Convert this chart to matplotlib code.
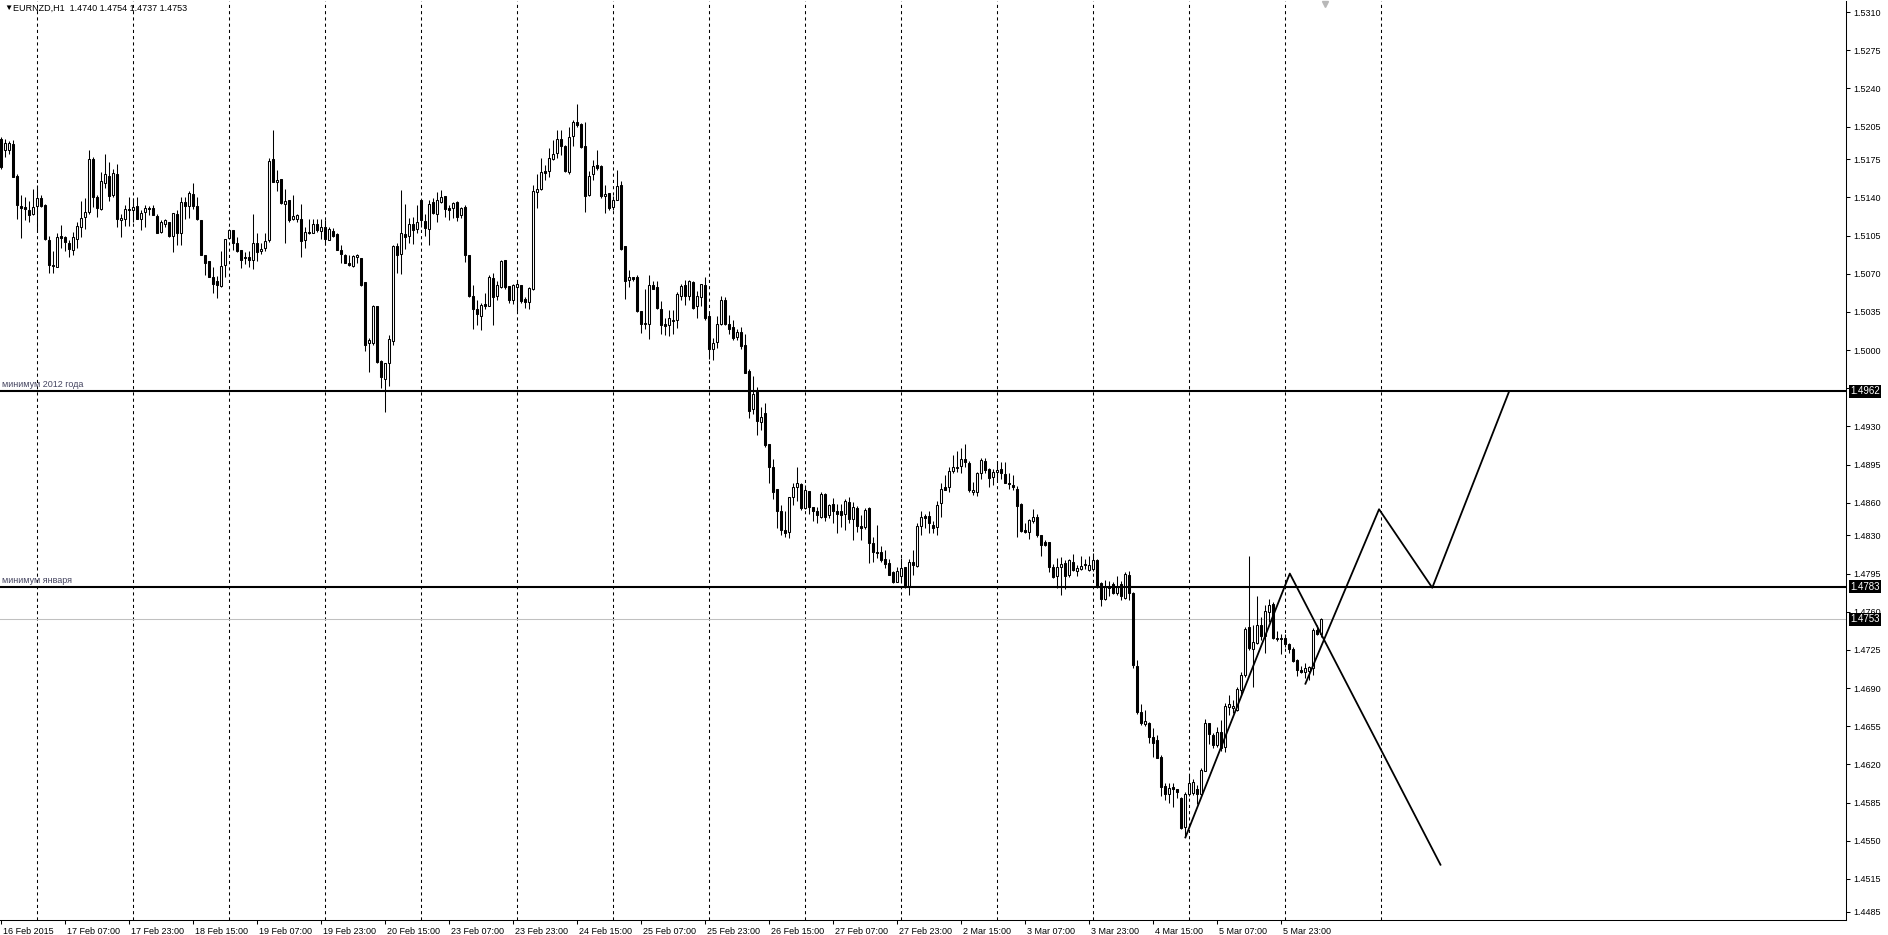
import numpy as np
import matplotlib.pyplot as plt
import matplotlib.transforms as mtransforms

plt.rcParams['font.family'] = ['Liberation Sans', 'DejaVu Sans']

# EURNZD H1, one value per bar (bar 0 = 16 Feb 15:00)
opens = [
    1.5194, 1.5183, 1.5183, 1.5189, 1.5160, 1.5132, 1.5131, 1.5128, 1.5125, 1.5132,
    1.5139, 1.5133, 1.5101, 1.5078, 1.5076, 1.5105, 1.5104, 1.5098, 1.5092, 1.5102,
    1.5113, 1.5122, 1.5127, 1.5175, 1.5140, 1.5129, 1.5153, 1.5160, 1.5142, 1.5161,
    1.5119, 1.5120, 1.5129, 1.5128, 1.5132, 1.5120, 1.5127, 1.5130, 1.5130, 1.5123,
    1.5108, 1.5116, 1.5117, 1.5105, 1.5125, 1.5107, 1.5136, 1.5132, 1.5143, 1.5132,
    1.5119, 1.5087, 1.5082, 1.5067, 1.5063, 1.5059, 1.5078, 1.5103, 1.5110, 1.5098,
    1.5092, 1.5085, 1.5085, 1.5083, 1.5098, 1.5091, 1.5094, 1.5101, 1.5175, 1.5154,
    1.5157, 1.5134, 1.5138, 1.5120, 1.5120, 1.5120, 1.5101, 1.5108, 1.5107, 1.5116,
    1.5109, 1.5113, 1.5101, 1.5109, 1.5106, 1.5092, 1.5087, 1.5080, 1.5077, 1.5085,
    1.5084, 1.5062, 1.5006, 1.5006, 1.5040, 1.4990, 1.4973, 1.4988, 1.5008, 1.5095,
    1.5088, 1.5106, 1.5105, 1.5116, 1.5111, 1.5138, 1.5118, 1.5111, 1.5136, 1.5125,
    1.5136, 1.5141, 1.5130, 1.5130, 1.5136, 1.5124, 1.5131, 1.5087, 1.5050, 1.5038,
    1.5031, 1.5042, 1.5040, 1.5066, 1.5050, 1.5058, 1.5083, 1.5059, 1.5046, 1.5058,
    1.5060, 1.5047, 1.5044, 1.5056, 1.5145, 1.5148, 1.5164, 1.5164, 1.5175, 1.5181,
    1.5194, 1.5187, 1.5163, 1.5196, 1.5209, 1.5207, 1.5187, 1.5142, 1.5161, 1.5170,
    1.5169, 1.5141, 1.5144, 1.5131, 1.5138, 1.5151, 1.5095, 1.5064, 1.5067, 1.5067,
    1.5036, 1.5024, 1.5024, 1.5060, 1.5058, 1.5038, 1.5024, 1.5023, 1.5027, 1.5028,
    1.5050, 1.5060, 1.5050, 1.5062, 1.5040, 1.5049, 1.5060, 1.5031, 1.5001, 1.5007,
    1.5024, 1.5046, 1.5024, 1.5021, 1.5012, 1.5017, 1.5005, 1.4981, 1.4946, 1.4962,
    1.4934, 1.4942, 1.4914, 1.4893, 1.4873, 1.4852, 1.4835, 1.4833, 1.4865, 1.4874,
    1.4877, 1.4855, 1.4871, 1.4856, 1.4852, 1.4847, 1.4868, 1.4849, 1.4859, 1.4852,
    1.4852, 1.4850, 1.4861, 1.4845, 1.4855, 1.4839, 1.4838, 1.4855, 1.4823, 1.4815,
    1.4815, 1.4808, 1.4805, 1.4796, 1.4787, 1.4793, 1.4801, 1.4784, 1.4806, 1.4802,
    1.4839, 1.4848, 1.4848, 1.4840, 1.4838, 1.4860, 1.4874, 1.4874, 1.4889, 1.4892,
    1.4894, 1.4900, 1.4896, 1.4870, 1.4870, 1.4887, 1.4898, 1.4891, 1.4884, 1.4888,
    1.4891, 1.4886, 1.4878, 1.4876, 1.4873, 1.4859, 1.4835, 1.4833, 1.4843, 1.4847,
    1.4830, 1.4824, 1.4824, 1.4801, 1.4793, 1.4801, 1.4805, 1.4794, 1.4806, 1.4797,
    1.4799, 1.4804, 1.4798, 1.4799, 1.4807, 1.4786, 1.4772, 1.4784, 1.4785, 1.4777,
    1.4785, 1.4773, 1.4794, 1.4777, 1.4710, 1.4668, 1.4657, 1.4658, 1.4645, 1.4642,
    1.4627, 1.4600, 1.4593, 1.4599, 1.4597, 1.4589, 1.4563, 1.4593, 1.4594, 1.4597,
    1.4593, 1.4614, 1.4658, 1.4647, 1.4638, 1.4650, 1.4636, 1.4673, 1.4672, 1.4670,
    1.4688, 1.4702, 1.4746, 1.4726, 1.4731, 1.4748, 1.4738, 1.4760, 1.4767, 1.4736,
    1.4736, 1.4736, 1.4730, 1.4726, 1.4716, 1.4707, 1.4705, 1.4706, 1.4708, 1.4743,
    1.4740,
]
highs = [
    1.5195, 1.5194, 1.5192, 1.5193, 1.5161, 1.5142, 1.5140, 1.5137, 1.5148, 1.5151,
    1.5142, 1.5134, 1.5105, 1.5091, 1.5107, 1.5115, 1.5105, 1.5101, 1.5108, 1.5117,
    1.5137, 1.5139, 1.5183, 1.5177, 1.5142, 1.5163, 1.5180, 1.5172, 1.5166, 1.5171,
    1.5125, 1.5133, 1.5140, 1.5139, 1.5140, 1.5128, 1.5133, 1.5132, 1.5133, 1.5125,
    1.5119, 1.5120, 1.5117, 1.5126, 1.5128, 1.5140, 1.5140, 1.5146, 1.5153, 1.5140,
    1.5119, 1.5087, 1.5082, 1.5076, 1.5068, 1.5091, 1.5102, 1.5111, 1.5110, 1.5104,
    1.5092, 1.5090, 1.5091, 1.5125, 1.5107, 1.5098, 1.5107, 1.5176, 1.5202, 1.5165,
    1.5157, 1.5148, 1.5138, 1.5142, 1.5125, 1.5134, 1.5113, 1.5120, 1.5120, 1.5120,
    1.5120, 1.5119, 1.5113, 1.5112, 1.5107, 1.5096, 1.5088, 1.5087, 1.5087, 1.5088,
    1.5084, 1.5062, 1.5011, 1.5041, 1.5040, 1.4991, 1.4988, 1.5014, 1.5096, 1.5098,
    1.5147, 1.5134, 1.5121, 1.5122, 1.5133, 1.5138, 1.5125, 1.5138, 1.5139, 1.5145,
    1.5147, 1.5141, 1.5133, 1.5136, 1.5137, 1.5131, 1.5133, 1.5087, 1.5060, 1.5046,
    1.5043, 1.5052, 1.5069, 1.5071, 1.5063, 1.5083, 1.5083, 1.5059, 1.5061, 1.5062,
    1.5060, 1.5049, 1.5058, 1.5151, 1.5161, 1.5176, 1.5170, 1.5185, 1.5193, 1.5202,
    1.5202, 1.5188, 1.5205, 1.5211, 1.5226, 1.5208, 1.5209, 1.5164, 1.5174, 1.5183,
    1.5170, 1.5151, 1.5144, 1.5141, 1.5165, 1.5155, 1.5095, 1.5073, 1.5067, 1.5069,
    1.5036, 1.5056, 1.5069, 1.5063, 1.5063, 1.5045, 1.5029, 1.5037, 1.5037, 1.5053,
    1.5061, 1.5064, 1.5064, 1.5063, 1.5054, 1.5061, 1.5067, 1.5034, 1.5011, 1.5031,
    1.5050, 1.5049, 1.5032, 1.5028, 1.5019, 1.5021, 1.5015, 1.4983, 1.4976, 1.4966,
    1.4948, 1.4951, 1.4914, 1.4900, 1.4873, 1.4858, 1.4852, 1.4865, 1.4878, 1.4893,
    1.4878, 1.4876, 1.4871, 1.4856, 1.4856, 1.4870, 1.4869, 1.4859, 1.4864, 1.4859,
    1.4859, 1.4863, 1.4865, 1.4861, 1.4857, 1.4849, 1.4855, 1.4856, 1.4829, 1.4840,
    1.4820, 1.4817, 1.4808, 1.4797, 1.4801, 1.4809, 1.4801, 1.4808, 1.4817, 1.4841,
    1.4852, 1.4850, 1.4852, 1.4843, 1.4862, 1.4878, 1.4885, 1.4893, 1.4904, 1.4907,
    1.4910, 1.4914, 1.4898, 1.4879, 1.4888, 1.4901, 1.4901, 1.4892, 1.4891, 1.4898,
    1.4897, 1.4897, 1.4887, 1.4885, 1.4875, 1.4860, 1.4841, 1.4845, 1.4854, 1.4850,
    1.4830, 1.4826, 1.4824, 1.4804, 1.4809, 1.4810, 1.4807, 1.4808, 1.4813, 1.4803,
    1.4811, 1.4808, 1.4811, 1.4814, 1.4808, 1.4787, 1.4789, 1.4788, 1.4787, 1.4793,
    1.4788, 1.4796, 1.4797, 1.4778, 1.4716, 1.4675, 1.4670, 1.4659, 1.4653, 1.4647,
    1.4629, 1.4603, 1.4603, 1.4603, 1.4597, 1.4590, 1.4595, 1.4610, 1.4607, 1.4601,
    1.4617, 1.4662, 1.4658, 1.4649, 1.4654, 1.4661, 1.4676, 1.4684, 1.4679, 1.4691,
    1.4705, 1.4746, 1.4811, 1.4748, 1.4774, 1.4755, 1.4766, 1.4772, 1.4769, 1.4742,
    1.4740, 1.4740, 1.4731, 1.4728, 1.4717, 1.4710, 1.4713, 1.4710, 1.4745, 1.4748,
    1.4754,
]
lows = [
    1.5166, 1.5177, 1.5180, 1.5159, 1.5120, 1.5103, 1.5119, 1.5117, 1.5124, 1.5108,
    1.5131, 1.5101, 1.5071, 1.5071, 1.5076, 1.5094, 1.5091, 1.5085, 1.5087, 1.5094,
    1.5104, 1.5111, 1.5125, 1.5131, 1.5122, 1.5128, 1.5149, 1.5137, 1.5140, 1.5113,
    1.5104, 1.5114, 1.5114, 1.5117, 1.5120, 1.5110, 1.5113, 1.5124, 1.5124, 1.5107,
    1.5107, 1.5113, 1.5104, 1.5090, 1.5096, 1.5096, 1.5120, 1.5121, 1.5129, 1.5119,
    1.5087, 1.5069, 1.5067, 1.5052, 1.5048, 1.5058, 1.5067, 1.5102, 1.5092, 1.5090,
    1.5075, 1.5079, 1.5076, 1.5074, 1.5082, 1.5088, 1.5091, 1.5099, 1.5154, 1.5146,
    1.5134, 1.5098, 1.5117, 1.5119, 1.5117, 1.5085, 1.5094, 1.5106, 1.5107, 1.5108,
    1.5102, 1.5096, 1.5101, 1.5104, 1.5092, 1.5080, 1.5080, 1.5077, 1.5076, 1.5080,
    1.5059, 1.4999, 1.4980, 1.5005, 1.4988, 1.4965, 1.4943, 1.4967, 1.5005, 1.5071,
    1.5070, 1.5093, 1.5098, 1.5097, 1.5107, 1.5113, 1.5105, 1.5096, 1.5125, 1.5117,
    1.5135, 1.5122, 1.5119, 1.5121, 1.5118, 1.5121, 1.5081, 1.5049, 1.5019, 1.5023,
    1.5018, 1.5038, 1.5040, 1.5023, 1.5046, 1.5057, 1.5056, 1.5043, 1.5042, 1.5036,
    1.5043, 1.5039, 1.5038, 1.5055, 1.5130, 1.5147, 1.5156, 1.5159, 1.5174, 1.5176,
    1.5179, 1.5163, 1.5161, 1.5187, 1.5205, 1.5185, 1.5127, 1.5141, 1.5156, 1.5165,
    1.5139, 1.5126, 1.5128, 1.5128, 1.5138, 1.5092, 1.5047, 1.5058, 1.5063, 1.5035,
    1.5016, 1.5019, 1.5010, 1.5056, 1.5038, 1.5015, 1.5014, 1.5013, 1.5015, 1.5020,
    1.5046, 1.5041, 1.5046, 1.5038, 1.5029, 1.5040, 1.5028, 1.4992, 1.4991, 1.5002,
    1.5023, 1.5023, 1.5015, 1.5009, 1.5009, 1.5001, 1.4979, 1.4938, 1.4941, 1.4922,
    1.4927, 1.4911, 1.4878, 1.4863, 1.4837, 1.4830, 1.4829, 1.4828, 1.4858, 1.4862,
    1.4853, 1.4854, 1.4850, 1.4843, 1.4841, 1.4846, 1.4843, 1.4846, 1.4841, 1.4832,
    1.4838, 1.4835, 1.4841, 1.4826, 1.4833, 1.4826, 1.4836, 1.4805, 1.4806, 1.4809,
    1.4806, 1.4800, 1.4794, 1.4786, 1.4787, 1.4786, 1.4782, 1.4775, 1.4794, 1.4801,
    1.4830, 1.4837, 1.4832, 1.4832, 1.4830, 1.4847, 1.4872, 1.4870, 1.4887, 1.4888,
    1.4887, 1.4893, 1.4870, 1.4867, 1.4866, 1.4882, 1.4887, 1.4874, 1.4876, 1.4881,
    1.4882, 1.4878, 1.4873, 1.4872, 1.4829, 1.4833, 1.4832, 1.4827, 1.4841, 1.4829,
    1.4811, 1.4820, 1.4796, 1.4791, 1.4782, 1.4775, 1.4781, 1.4792, 1.4797, 1.4793,
    1.4798, 1.4799, 1.4797, 1.4797, 1.4782, 1.4765, 1.4771, 1.4774, 1.4776, 1.4775,
    1.4771, 1.4772, 1.4771, 1.4708, 1.4666, 1.4656, 1.4655, 1.4640, 1.4627, 1.4626,
    1.4591, 1.4587, 1.4585, 1.4581, 1.4589, 1.4561, 1.4553, 1.4591, 1.4592, 1.4584,
    1.4592, 1.4614, 1.4639, 1.4635, 1.4636, 1.4632, 1.4631, 1.4665, 1.4667, 1.4669,
    1.4684, 1.4700, 1.4725, 1.4691, 1.4730, 1.4734, 1.4722, 1.4751, 1.4735, 1.4733,
    1.4721, 1.4728, 1.4722, 1.4714, 1.4701, 1.4704, 1.4699, 1.4697, 1.4702, 1.4739,
    1.4737,
]
closes = [
    1.5168, 1.5190, 1.5190, 1.5159, 1.5133, 1.5130, 1.5129, 1.5124, 1.5131, 1.5139,
    1.5132, 1.5102, 1.5078, 1.5077, 1.5104, 1.5103, 1.5099, 1.5093, 1.5104, 1.5114,
    1.5121, 1.5127, 1.5175, 1.5140, 1.5130, 1.5155, 1.5161, 1.5141, 1.5162, 1.5120,
    1.5121, 1.5129, 1.5128, 1.5131, 1.5120, 1.5126, 1.5130, 1.5129, 1.5124, 1.5107,
    1.5117, 1.5119, 1.5105, 1.5126, 1.5107, 1.5136, 1.5132, 1.5144, 1.5132, 1.5120,
    1.5087, 1.5080, 1.5067, 1.5061, 1.5060, 1.5077, 1.5102, 1.5110, 1.5098, 1.5091,
    1.5083, 1.5084, 1.5083, 1.5098, 1.5090, 1.5093, 1.5100, 1.5173, 1.5154, 1.5156,
    1.5135, 1.5137, 1.5119, 1.5123, 1.5124, 1.5100, 1.5108, 1.5107, 1.5116, 1.5110,
    1.5113, 1.5102, 1.5111, 1.5105, 1.5092, 1.5088, 1.5080, 1.5078, 1.5086, 1.5087,
    1.5060, 1.5005, 1.5009, 1.5040, 1.4989, 1.4975, 1.4988, 1.5010, 1.5095, 1.5087,
    1.5107, 1.5104, 1.5116, 1.5110, 1.5117, 1.5119, 1.5112, 1.5134, 1.5126, 1.5138,
    1.5140, 1.5129, 1.5128, 1.5135, 1.5122, 1.5130, 1.5087, 1.5050, 1.5038, 1.5033,
    1.5041, 1.5040, 1.5067, 1.5049, 1.5060, 1.5082, 1.5058, 1.5046, 1.5060, 1.5061,
    1.5045, 1.5044, 1.5057, 1.5146, 1.5148, 1.5163, 1.5162, 1.5176, 1.5180, 1.5194,
    1.5187, 1.5164, 1.5195, 1.5209, 1.5206, 1.5186, 1.5141, 1.5160, 1.5169, 1.5167,
    1.5141, 1.5143, 1.5130, 1.5138, 1.5150, 1.5093, 1.5063, 1.5067, 1.5065, 1.5036,
    1.5024, 1.5025, 1.5060, 1.5056, 1.5039, 1.5023, 1.5022, 1.5029, 1.5028, 1.5051,
    1.5059, 1.5050, 1.5063, 1.5039, 1.5050, 1.5061, 1.5029, 1.5001, 1.5006, 1.5024,
    1.5046, 1.5024, 1.5019, 1.5011, 1.5017, 1.5004, 1.4979, 1.4944, 1.4960, 1.4935,
    1.4939, 1.4913, 1.4893, 1.4870, 1.4852, 1.4835, 1.4832, 1.4865, 1.4874, 1.4878,
    1.4855, 1.4872, 1.4856, 1.4852, 1.4849, 1.4868, 1.4847, 1.4858, 1.4852, 1.4850,
    1.4849, 1.4862, 1.4845, 1.4856, 1.4839, 1.4837, 1.4853, 1.4823, 1.4815, 1.4814,
    1.4807, 1.4804, 1.4794, 1.4787, 1.4797, 1.4800, 1.4784, 1.4806, 1.4803, 1.4839,
    1.4847, 1.4846, 1.4841, 1.4837, 1.4858, 1.4873, 1.4872, 1.4889, 1.4893, 1.4893,
    1.4900, 1.4897, 1.4872, 1.4872, 1.4887, 1.4899, 1.4890, 1.4883, 1.4888, 1.4890,
    1.4887, 1.4878, 1.4877, 1.4874, 1.4857, 1.4834, 1.4833, 1.4844, 1.4847, 1.4830,
    1.4821, 1.4821, 1.4801, 1.4792, 1.4801, 1.4804, 1.4793, 1.4807, 1.4798, 1.4800,
    1.4802, 1.4803, 1.4803, 1.4807, 1.4784, 1.4772, 1.4784, 1.4782, 1.4777, 1.4783,
    1.4774, 1.4795, 1.4777, 1.4711, 1.4668, 1.4658, 1.4660, 1.4645, 1.4640, 1.4626,
    1.4599, 1.4593, 1.4598, 1.4597, 1.4595, 1.4562, 1.4593, 1.4603, 1.4604, 1.4593,
    1.4615, 1.4658, 1.4648, 1.4638, 1.4650, 1.4635, 1.4674, 1.4675, 1.4674, 1.4689,
    1.4702, 1.4744, 1.4727, 1.4732, 1.4748, 1.4738, 1.4761, 1.4766, 1.4736, 1.4735,
    1.4735, 1.4730, 1.4726, 1.4715, 1.4707, 1.4705, 1.4708, 1.4709, 1.4743, 1.4740,
    1.4753,
]

time_labels = [
    "16 Feb 2015", "17 Feb 07:00", "17 Feb 23:00", "18 Feb 15:00", "19 Feb 07:00",
    "19 Feb 23:00", "20 Feb 15:00", "23 Feb 07:00", "23 Feb 23:00", "24 Feb 15:00",
    "25 Feb 07:00", "25 Feb 23:00", "26 Feb 15:00", "27 Feb 07:00", "27 Feb 23:00",
    "2 Mar 15:00", "3 Mar 07:00", "3 Mar 23:00", "4 Mar 15:00", "5 Mar 07:00",
    "5 Mar 23:00",
]
# bars that open a new day (00:00), future ones included
day_starts = [9, 33, 57, 81, 105, 129, 153, 177, 201, 225, 249, 273, 297, 321, 345]

price_ticks = [
    1.5310, 1.5275, 1.5240, 1.5205, 1.5175, 1.5140, 1.5105, 1.5070, 1.5035,
    1.5000, 1.4965, 1.4930, 1.4895, 1.4860, 1.4830, 1.4795, 1.4760, 1.4725,
    1.4690, 1.4655, 1.4620, 1.4585, 1.4550, 1.4515, 1.4485,
]

levels = [1.4962, 1.4783]
level_names = ["минимум 2012 года", "минимум января"]
bid = 1.4753
header = "EURNZD,H1  1.4740 1.4754 1.4737 1.4753"

# hand-drawn zigzag scenarios (bar index, price)
zig_a_bars = [296, 322.1, 359.75]
zig_a_prices = [1.4553, 1.4795, 1.4528]
zig_b_bars = [326, 344.4, 357.7, 376.9]
zig_b_prices = [1.4694, 1.4854, 1.4782, 1.4962]

W, H = 1888, 935
fig = plt.figure(figsize=(W / 100, H / 100), dpi=100)
fig.patch.set_facecolor('white')
ax = fig.add_axes([0, 15 / H, 1846 / W, 919 / H])
ax.set_xlim(-0.25, 461.1)
ax.set_ylim(1.44773, 1.53201)

for d in day_starts:
    ax.axvline(d, color='black', lw=0.75, ls=(0, (3, 3)), zorder=1)

o = np.array(opens)
h = np.array(highs)
l = np.array(lows)
c = np.array(closes)
x = np.arange(len(o))
up = c >= o

ax.vlines(x, l, h, colors='black', lw=0.75, zorder=3)
ax.bar(x[up], c[up] - o[up], bottom=o[up], width=0.5,
       facecolor='white', edgecolor='black', lw=0.75, zorder=4)
ax.bar(x[~up], o[~up] - c[~up], bottom=c[~up], width=0.5,
       facecolor='black', edgecolor='black', lw=0.75, zorder=4)

ax.axhline(bid, color='#c0c0c0', lw=0.75, zorder=2)
for lv, name in zip(levels, level_names):
    ax.axhline(lv, color='black', lw=1.5, zorder=5)
    ax.annotate(name, xy=(0, lv), xycoords=('axes fraction', 'data'),
                xytext=(2, 2), textcoords='offset pixels',
                fontsize=6.5, color='#454560', ha='left', va='bottom')

ax.plot(zig_a_bars, zig_a_prices, color='black', lw=1.3, zorder=6)
ax.plot(zig_b_bars, zig_b_prices, color='black', lw=1.3, zorder=6)

# chart shift marker
ax.plot([len(o)], [1.53173], marker='v', ms=4, color='#b8b8b8',
        clip_on=False, zorder=6)

ax.yaxis.tick_right()
ax.set_yticks(price_ticks)
ax.set_yticklabels([f"{p:.4f}" for p in price_ticks])
ax.tick_params(axis='y', direction='out', length=3, width=0.75, pad=2,
               labelsize=6.5, colors='black')

ax.set_xticks(range(0, 16 * len(time_labels), 16))
ax.set_xticklabels(time_labels, ha='left')
ax.tick_params(axis='x', direction='out', length=3, width=0.75, pad=2,
               labelsize=6.5)
shift = mtransforms.ScaledTranslation(2 / 100, 0, fig.dpi_scale_trans)
for lab in ax.get_xticklabels():
    lab.set_transform(lab.get_transform() + shift)

ax.spines['top'].set_visible(False)
ax.spines['left'].set_visible(False)
ax.spines['right'].set_linewidth(0.75)
ax.spines['bottom'].set_linewidth(0.75)

for p in levels + [bid]:
    ax.annotate(f"{p:.4f}", xy=(1, p), xycoords=('axes fraction', 'data'),
                xytext=(4, 0), textcoords='offset pixels',
                ha='left', va='center', color='white', fontsize=7,
                bbox=dict(boxstyle='square,pad=0.15', fc='black', ec='none'),
                annotation_clip=False, zorder=10)

fig.text(4 / W, 1 - 8 / H, "\u25bc", fontsize=6, va='center', ha='left')
fig.text(13 / W, 1 - 8 / H, header, fontsize=6.5, va='center', ha='left')

fig.savefig('out.png', dpi=100)
